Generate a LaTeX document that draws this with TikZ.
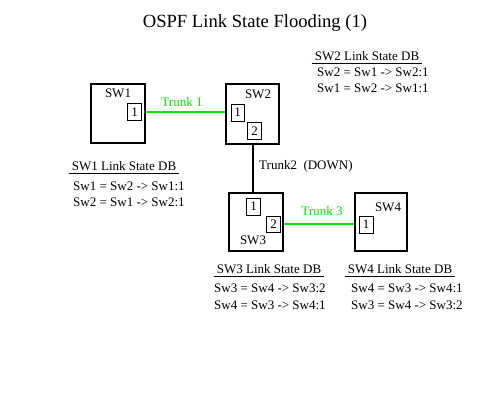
\documentclass[tikz,border=0pt]{standalone}
\usepackage{fontspec}
\setmainfont{Liberation Serif}
\definecolor{trunkgreen}{RGB}{0,230,0}
\tikzset{
  switchbox/.style = {draw, line width=2pt, minimum width=54pt, minimum height=59pt, inner sep=0pt},
  portbox/.style = {draw, line width=0.7pt, minimum width=14pt, minimum height=17pt, inner sep=0pt, font=\fontsize{13}{15}\selectfont},
  lbl/.style = {inner sep=1pt, font=\fontsize{13}{15}\selectfont},
  trunkup/.style = {trunkgreen, line width=2.2pt},
  trunkdown/.style = {black, line width=2pt}
}
\begin{document}
\begin{tikzpicture}[x=1pt, y=-1pt]
\useasboundingbox (0,0) rectangle (500,400);
\node (title) at (255,23) {\fontsize{18.6}{22}\selectfont OSPF Link State Flooding (1)};
% switches
\node (sw1) [switchbox] at (118,113.5) {};
\node (sw2) [switchbox, minimum width=53pt, minimum height=60pt] at (252.5,114) {};
\node (sw3) [switchbox, minimum height=58pt] at (256,222) {};
\node (sw4) [switchbox, minimum width=52pt, minimum height=58pt] at (381,222) {};
\node (sw1name) [lbl] at (118,93) {SW1};
\node (sw2name) [lbl] at (258,94) {SW2};
\node (sw3name) [lbl] at (253,240) {SW3};
\node (sw4name) [lbl] at (388,207) {SW4};
% ports
\node (p11) [portbox] at (134.5,112) {1};
\node (p21) [portbox, minimum width=13pt] at (237.5,112.5) {1};
\node (p22) [portbox] at (254.5,131) {2};
\node (p31) [portbox] at (253.5,206.5) {1};
\node (p32) [portbox, minimum height=16pt] at (273.5,224) {2};
\node (p41) [portbox] at (366,224.5) {1};
% trunks
\draw [trunkup] (sw1.east |- p11) -- (sw2.west |- p11);
\draw [trunkdown] (sw2.south -| p22.west) ++(6pt,0) coordinate (t2a) -- (sw3.north -| t2a);
\draw [trunkup] (sw3.east |- p32) -- (sw4.west |- p32);
\node (t1) [lbl, trunkgreen] at (182,102) {Trunk 1};
\node (t2) [lbl, anchor=west] at (258,166) {Trunk2\ \ (DOWN)};
\node (t3) [lbl, trunkgreen] at (322,211) {Trunk 3};
% link state databases
\node (db1) [lbl, inner xsep=3pt, inner ysep=2pt] at (124,166) {SW1 Link State DB};
\draw (db1.south west) -- (db1.south east);
\node (db1a) [lbl, anchor=west] at (72,186) {Sw1 = Sw2 -> Sw1:1};
\node (db1b) [lbl, anchor=west] at (72,202) {Sw2 = Sw1 -> Sw2:1};
\node (db2) [lbl, inner xsep=3pt, inner ysep=2pt] at (367,56) {SW2 Link State DB};
\draw (db2.south west) -- (db2.south east);
\node (db2a) [lbl, anchor=west] at (316,72) {Sw2 = Sw1 -> Sw2:1};
\node (db2b) [lbl, anchor=west] at (316,88) {Sw1 = Sw2 -> Sw1:1};
\node (db3) [lbl, inner xsep=3pt, inner ysep=2pt] at (269,269) {SW3 Link State DB};
\draw (db3.south west) -- (db3.south east);
\node (db3a) [lbl, anchor=west] at (213,288) {Sw3 = Sw4 -> Sw3:2};
\node (db3b) [lbl, anchor=west] at (213,305) {Sw4 = Sw3 -> Sw4:1};
\node (db4) [lbl, inner xsep=3pt, inner ysep=2pt] at (400,269) {SW4 Link State DB};
\draw (db4.south west) -- (db4.south east);
\node (db4a) [lbl, anchor=west] at (350,288) {Sw4 = Sw3 -> Sw4:1};
\node (db4b) [lbl, anchor=west] at (350,305) {Sw3 = Sw4 -> Sw3:2};
\end{tikzpicture}
\end{document}
